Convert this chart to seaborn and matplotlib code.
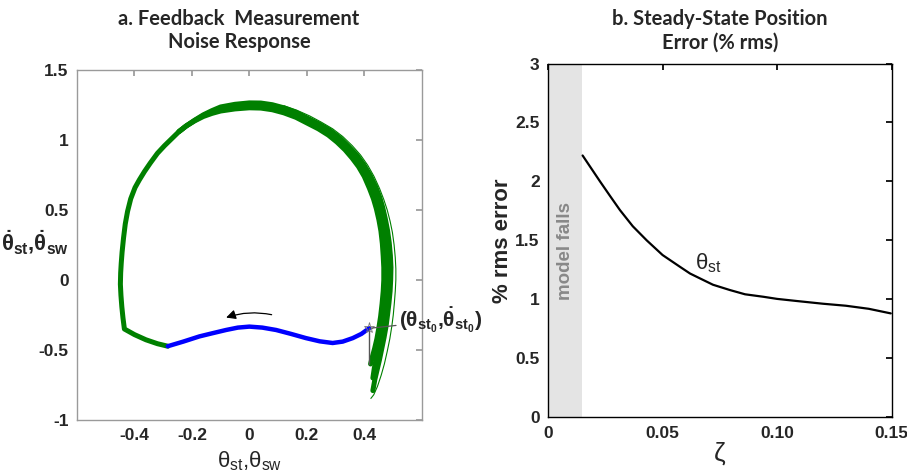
import numpy as np
import pandas as pd
import matplotlib
matplotlib.use("Agg")
import matplotlib.pyplot as plt
import seaborn as sns

# ---- panel a: phase portrait of the walking cycle ----
# swing phase (green), centre of the bundle of cycles
loop_theta = [-0.284, -0.32, -0.36, -0.40, -0.435,
              -0.440, -0.444, -0.447, -0.449, -0.448, -0.446, -0.443, -0.438, -0.432, -0.424,
              -0.413, -0.398, -0.383, -0.365, -0.345, -0.32, -0.295, -0.27, -0.245, -0.22,
              -0.19, -0.16, -0.13, -0.10, -0.07, -0.035,
              0.0, 0.04, 0.08, 0.12, 0.162, 0.20, 0.24, 0.278, 0.31, 0.34, 0.368, 0.39,
              0.41, 0.43, 0.443, 0.453, 0.462, 0.47, 0.475, 0.479, 0.481, 0.48, 0.478,
              0.474, 0.469, 0.464, 0.457, 0.449, 0.442, 0.435, 0.43]
loop_omega = [-0.473, -0.455, -0.427, -0.39, -0.35,
              -0.27, -0.19, -0.11, -0.03, 0.05, 0.12, 0.20, 0.30, 0.40, 0.49,
              0.58, 0.66, 0.715, 0.775, 0.835, 0.905, 0.96, 1.01, 1.06, 1.10,
              1.14, 1.175, 1.20, 1.222, 1.237, 1.246,
              1.25, 1.247, 1.235, 1.212, 1.18, 1.14, 1.10, 1.055, 1.0, 0.94, 0.875, 0.81,
              0.735, 0.645, 0.57, 0.50, 0.42, 0.34, 0.25, 0.16, 0.08, 0.0, -0.08,
              -0.16, -0.25, -0.33, -0.41, -0.49, -0.56, -0.63, -0.70]

# inner and outer cycles of the bundle
inner_theta = [-0.245, -0.22, -0.19, -0.16, -0.13, -0.10, -0.05, 0.0, 0.04, 0.08, 0.12,
               0.162, 0.20, 0.24, 0.275, 0.305, 0.333, 0.358, 0.38, 0.40, 0.418, 0.432,
               0.442, 0.451, 0.458, 0.463, 0.466, 0.468, 0.468, 0.466, 0.462, 0.457, 0.451,
               0.444, 0.436, 0.428, 0.422]
inner_omega = [1.06, 1.10, 1.137, 1.168, 1.19, 1.207, 1.222, 1.23, 1.228, 1.216, 1.194,
               1.162, 1.122, 1.08, 1.035, 0.985, 0.93, 0.87, 0.81, 0.74, 0.655, 0.58,
               0.51, 0.43, 0.35, 0.26, 0.17, 0.09, 0.0, -0.08, -0.17, -0.26, -0.34,
               -0.42, -0.49, -0.55, -0.60]
band_theta = [-0.245, -0.22, -0.19, -0.16, -0.13, -0.10, -0.05, 0.0, 0.04, 0.08, 0.12,
              0.162, 0.20, 0.24, 0.28, 0.315, 0.345, 0.375, 0.398, 0.42, 0.44, 0.454, 0.464,
              0.473, 0.481, 0.487, 0.491, 0.493, 0.492, 0.49, 0.486, 0.481, 0.476, 0.469,
              0.461, 0.453, 0.445, 0.437, 0.43]
band_omega = [1.06, 1.10, 1.142, 1.18, 1.21, 1.236, 1.255, 1.265, 1.264, 1.252, 1.23,
              1.198, 1.158, 1.117, 1.07, 1.015, 0.955, 0.89, 0.825, 0.75, 0.665, 0.59, 0.52,
              0.44, 0.355, 0.265, 0.175, 0.09, 0.0, -0.08, -0.165, -0.25, -0.33, -0.41,
              -0.49, -0.57, -0.64, -0.71, -0.79]
outer_theta = [0.12, 0.165, 0.21, 0.25, 0.29, 0.325, 0.358, 0.387, 0.412, 0.434, 0.453,
               0.468, 0.48, 0.49, 0.498, 0.504, 0.508, 0.51, 0.51, 0.508, 0.505, 0.501,
               0.496, 0.489, 0.48, 0.47, 0.459, 0.446, 0.433, 0.423]
outer_omega = [1.245, 1.213, 1.172, 1.128, 1.08, 1.025, 0.96, 0.893, 0.82, 0.74, 0.655,
               0.575, 0.5, 0.42, 0.34, 0.25, 0.16, 0.08, 0.0, -0.08, -0.16, -0.25,
               -0.33, -0.42, -0.51, -0.60, -0.68, -0.76, -0.82, -0.846]

# stance phase (blue)
stance_theta = [0.417, 0.39, 0.36, 0.325, 0.29, 0.245, 0.197, 0.145, 0.093, 0.045, 0.0,
                -0.04, -0.081, -0.128, -0.174, -0.23, -0.284]
stance_omega = [-0.345, -0.385, -0.415, -0.44, -0.45, -0.438, -0.415, -0.385, -0.357, -0.34,
                -0.333, -0.34, -0.357, -0.38, -0.403, -0.44, -0.473]

# initial condition and impact jump
theta0, omega0 = 0.418, -0.345
impact_omega = [-0.345, -0.60]

# ---- panel b: steady-state position error ----
zeta = [0.0151, 0.018, 0.0227, 0.027, 0.0314, 0.037, 0.0431, 0.05, 0.0576, 0.062, 0.0663,
        0.072, 0.0794, 0.086, 0.094, 0.10, 0.1086, 0.12, 0.130, 0.14, 0.1496]
rms_err = [2.22, 2.136, 2.00, 1.879, 1.757, 1.62, 1.50, 1.376, 1.276, 1.219, 1.178,
           1.124, 1.079, 1.043, 1.022, 1.004, 0.986, 0.963, 0.946, 0.92, 0.881]
fall_limit = 0.015

sns.set_theme(style="white")
plt.rcParams["font.family"] = ["Liberation Sans", "DejaVu Sans"]
plt.rcParams["mathtext.default"] = "regular"

W, H = 907, 476
fig = plt.figure(figsize=(W / 100, H / 100), dpi=100)
ax1 = fig.add_axes([77 / W, 1 - 420 / H, 344.7 / W, 350 / H])
ax2 = fig.add_axes([548 / W, 1 - 417.3 / H, 343.7 / W, 353.8 / H])

green = "#008000"
blue = "#0000ff"


def trace(ax, x, y, **kw):
    df = pd.DataFrame({"x": x, "y": y})
    sns.lineplot(data=df, x="x", y="y", sort=False, estimator=None, ax=ax, **kw)


trace(ax1, outer_theta, outer_omega, color=green, lw=0.8)
trace(ax1, inner_theta, inner_omega, color=green, lw=3.6)
trace(ax1, band_theta, band_omega, color=green, lw=3.6)
trace(ax1, loop_theta, loop_omega, color=green, lw=3.6)
trace(ax1, stance_theta, stance_omega, color=blue, lw=3.2)
ax1.plot([theta0, theta0], impact_omega, color="#555555", lw=1.0)
ax1.plot([theta0], [omega0], marker="*", color="#777777", ms=8, mew=0.6, fillstyle="none")

# direction of travel along the stance phase
ax1.annotate("", xy=(-0.09, -0.275), xytext=(0.087, -0.252),
             arrowprops=dict(arrowstyle="-|>", color="black", lw=0.9,
                             mutation_scale=14, connectionstyle="arc3,rad=0.15"))
ax1.annotate(r"$(\theta_{st_0}{,}\dot{\theta}_{st_0})$", xy=(theta0, omega0),
             xytext=(0.522, -0.29), va="center", ha="left", fontsize=15,
             fontweight="bold", annotation_clip=False,
             arrowprops=dict(arrowstyle="-", color="#555555", lw=0.9, shrinkA=0, shrinkB=1))

ax1.set_xlim(-0.6, 0.6)
ax1.set_ylim(-1, 1.5)
ax1.set_xticks([-0.4, -0.2, 0, 0.2, 0.4])
ax1.set_xticklabels(["-0.4", "-0.2", "0", "0.2", "0.4"])
ax1.set_yticks([-1, -0.5, 0, 0.5, 1, 1.5])
ax1.set_yticklabels(["-1", "-0.5", "0", "0.5", "1", "1.5"])
for s in ax1.spines.values():
    s.set_color("#9a9a9a")
    s.set_linewidth(1.0)
ax1.tick_params(direction="in", length=4, color="#9a9a9a", top=True, right=True,
                labelsize=12.5, pad=6)
for lab in ax1.get_xticklabels() + ax1.get_yticklabels():
    lab.set_fontweight("bold")
ax1.set_xlabel("")
ax1.set_ylabel("")
ax1.set_title("a. Feedback  Measurement\nNoise Response", fontsize=14.5, fontweight="bold",
              family=["Lato", "DejaVu Sans"], x=0.47, pad=16, linespacing=1.2)

fig.text(35 / W, 1 - 243 / H, r"$\dot{\theta}_{st}{,}\dot{\theta}_{sw}$", fontsize=16,
         fontweight="bold", ha="center", va="center")
fig.text(250 / W, 1 - 461 / H, r"$\theta_{st}{,}\theta_{sw}$", fontsize=16,
         ha="center", va="center")

# ---- panel b ----
ax2.axvspan(0, fall_limit, color="#e4e4e4", lw=0)
trace(ax2, zeta, rms_err, color="black", lw=1.6)
ax2.text(0.0078, 1.41, "model falls", rotation=90, color="#888888", fontsize=13.5,
         fontweight="bold", ha="center", va="center")
ax2.text(0.070, 1.31, r"$\theta_{st}$", fontsize=16, ha="center", va="center")

ax2.set_xlim(0, 0.15)
ax2.set_ylim(0, 3)
ax2.set_xticks([0, 0.05, 0.10, 0.15])
ax2.set_xticklabels(["0", "0.05", "0.10", "0.15"])
ax2.set_yticks([0, 0.5, 1, 1.5, 2, 2.5, 3])
ax2.set_yticklabels(["0", "0.5", "1", "1.5", "2", "2.5", "3"])
for s in ax2.spines.values():
    s.set_color("black")
    s.set_linewidth(1.0)
ax2.tick_params(direction="in", length=4, color="black", top=True, right=True,
                labelsize=12.5, pad=6)
for lab in ax2.get_xticklabels() + ax2.get_yticklabels():
    lab.set_fontweight("bold")
ax2.set_xlabel(r"$\zeta$", fontsize=19, labelpad=0)
ax2.set_ylabel("% rms error", fontsize=16, fontweight="bold", labelpad=2)
ax2.set_title("b. Steady-State Position\nError (% rms)", fontsize=14.5, fontweight="bold",
              family=["Lato", "DejaVu Sans"], pad=11, linespacing=1.2)

fig.savefig("out.png", dpi=100)
